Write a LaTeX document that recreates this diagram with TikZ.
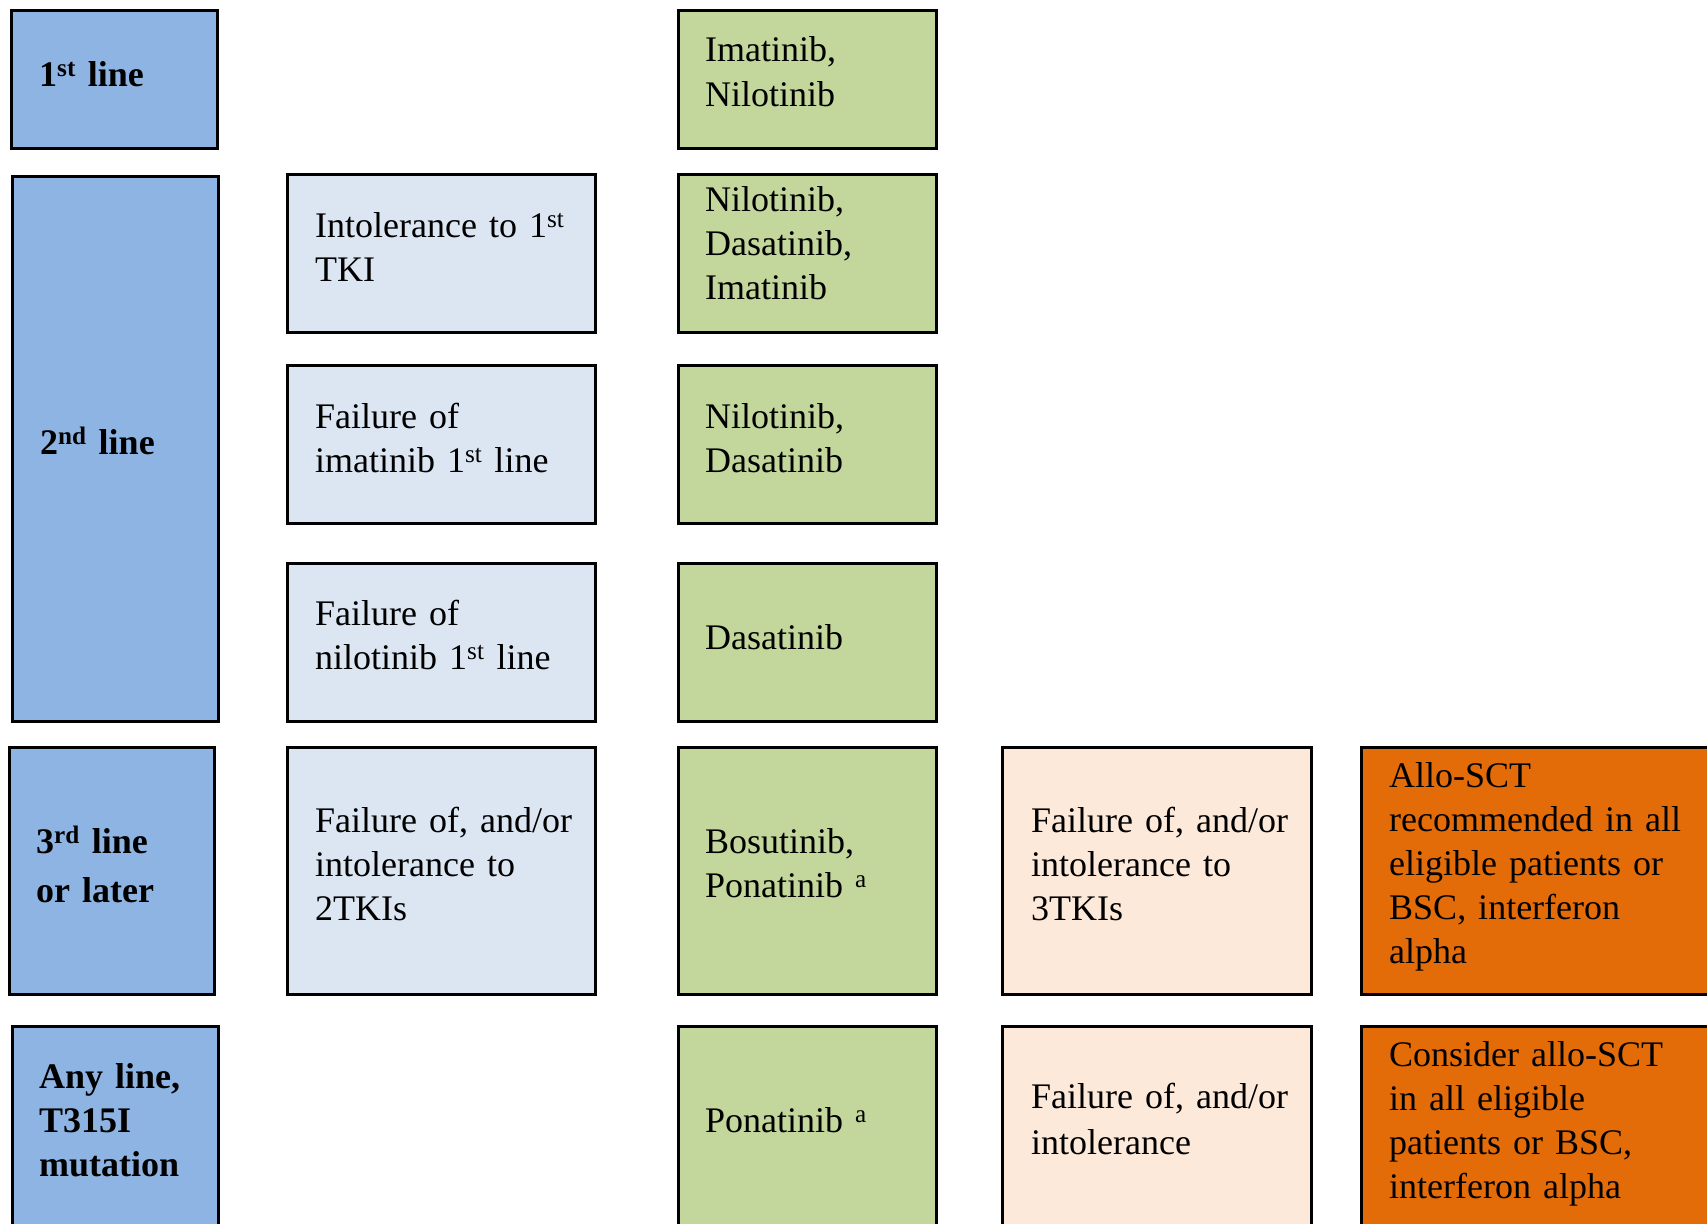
\documentclass[tikz,border=0pt]{standalone}
\usepackage{fontspec}
\setmainfont{Liberation Serif}
\definecolor{hdrblue}{HTML}{8EB4E3}
\definecolor{condblue}{HTML}{DCE6F2}
\definecolor{druggreen}{HTML}{C3D69B}
\definecolor{peach}{HTML}{FDE9D9}
\definecolor{sctorange}{HTML}{E36C09}
\begin{document}
\begin{tikzpicture}[x=1pt,y=-1pt,
  box/.style={draw=black, line width=3pt, inner sep=0pt, outer sep=0pt},
  hdr/.style={box, fill=hdrblue},
  cond/.style={box, fill=condblue},
  drug/.style={box, fill=druggreen},
  fail/.style={box, fill=peach},
  sct/.style={box, fill=sctorange},
  txt/.style={anchor=base west, align=left, text width=400pt, inner sep=0pt, font=\fontsize{36}{44}\selectfont},
  htxt/.style={txt, font=\fontsize{36}{44}\selectfont\bfseries}]
\clip (0,0) rectangle (1707,1223);
\fill[white] (0,0) rectangle (1707,1223);
% header column
\node[hdr, minimum width=206pt, minimum height=137pt] (h1) at (114,79.5) {};
\node[hdr, minimum width=206pt, minimum height=545pt] (h2) at (115,448.5) {};
\node[hdr, minimum width=205pt, minimum height=247pt] (h3) at (111.5,870.5) {};
\node[hdr, minimum width=206pt, minimum height=224pt] (h4) at (115,1138) {};
% conditions
\node[cond, minimum width=308pt, minimum height=158pt] (c2a) at (441,253) {};
\node[cond, minimum width=308pt, minimum height=158pt] (c2b) at (441,444) {};
\node[cond, minimum width=308pt, minimum height=158pt] (c2c) at (441,642) {};
\node[cond, minimum width=308pt, minimum height=247pt] (c2d) at (441,870.5) {};
% drugs
\node[drug, minimum width=258pt, minimum height=137pt] (g1) at (807,79.5) {};
\node[drug, minimum width=258pt, minimum height=158pt] (g2) at (807,253) {};
\node[drug, minimum width=258pt, minimum height=158pt] (g3) at (807,444) {};
\node[drug, minimum width=258pt, minimum height=158pt] (g4) at (807,642) {};
\node[drug, minimum width=258pt, minimum height=247pt] (g5) at (807,870.5) {};
\node[drug, minimum width=258pt, minimum height=224pt] (g6) at (807,1138) {};
% failure
\node[fail, minimum width=309pt, minimum height=247pt] (p1) at (1156.5,870.5) {};
\node[fail, minimum width=309pt, minimum height=224pt] (p2) at (1156.5,1138) {};
% SCT
\node[sct, minimum width=369pt, minimum height=247pt] (o1) at (1545.5,870.5) {};
\node[sct, minimum width=369pt, minimum height=224pt] (o2) at (1545.5,1138) {};
% texts
\node[htxt] (th1) at (39,86) {1\textsuperscript{st} line};
\node[htxt] (th2) at (40,454) {2\textsuperscript{nd} line};
\node[htxt] (th3) at (36,853) {3\textsuperscript{rd} line\\[5pt]or later};
\node[htxt] (th4) at (39,1088) {Any line,\\T315I\\mutation};
\node[txt] (tc2a) at (315,237) {Intolerance to 1\textsuperscript{st}\\TKI};
\node[txt] (tc2b) at (315,428) {Failure of\\imatinib 1\textsuperscript{st} line};
\node[txt] (tc2c) at (315,625) {Failure of\\nilotinib 1\textsuperscript{st} line};
\node[txt] (tc2d) at (315,832) {Failure of, and/or\\intolerance to\\2TKIs};
\node[txt] (tg1) at (705,62) {Imatinib,\\Nilotinib};
\node[txt] (tg2) at (705,211) {Nilotinib,\\Dasatinib,\\Imatinib};
\node[txt] (tg3) at (705,428) {Nilotinib,\\Dasatinib};
\node[txt] (tg4) at (705,649) {Dasatinib};
\node[txt] (tg5) at (705,853) {Bosutinib,\\Ponatinib \textsuperscript{a}};
\node[txt] (tg6) at (705,1132) {Ponatinib \textsuperscript{a}};
\node[txt] (tp1) at (1031,832) {Failure of, and/or\\intolerance to\\3TKIs};
\node[txt] (tp2) at (1031,1108) {Failure of, and/or\\[2pt]intolerance};
\node[txt] (to1) at (1389,787) {Allo-SCT\\recommended in all\\eligible patients or\\BSC, interferon\\alpha};
\node[txt] (to2) at (1389,1066) {Consider allo-SCT\\in all eligible\\patients or BSC,\\interferon alpha};
\end{tikzpicture}
\end{document}
